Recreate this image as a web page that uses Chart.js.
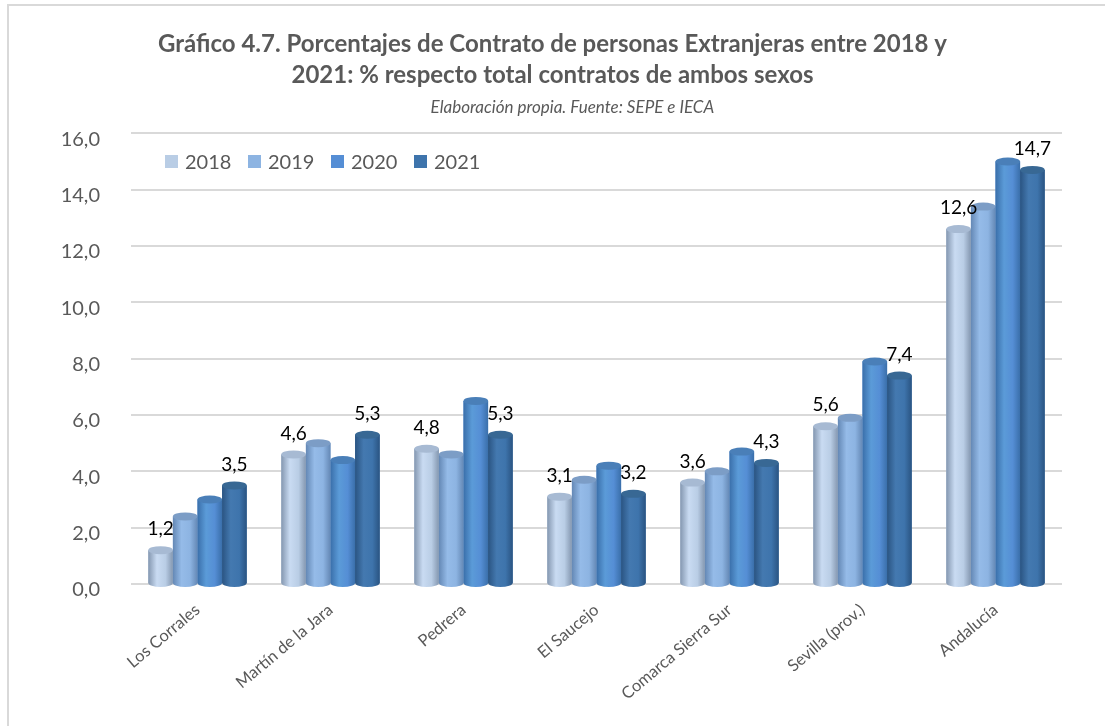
<!DOCTYPE html>
<html>
<head>
<meta charset="utf-8">
<script src="https://cdn.jsdelivr.net/npm/chart.js@4"></script>
<style>
  body { margin: 0; background: #fff; font-family: Lato, "Open Sans", sans-serif; }
  #wrap { position: relative; width: 1105px; height: 726px; overflow: hidden; }
  #frame { position: absolute; left: 7px; top: 4px; width: 1200px; height: 800px;
           border-top: 2px solid #d9d9d9; border-left: 2px solid #d9d9d9; }
  #legend { position: absolute; left: 165px; top: 149px; display: flex; }
  #legend .item { width: 83px; display: flex; align-items: center; font-size: 20px; color: #595959; }
  #legend .box { width: 13px; height: 13px; margin-right: 7px; }
</style>
</head>
<body>
<div id="wrap">
  <div id="frame"></div>
  <canvas id="chart" width="1105" height="726"></canvas>
  <div id="legend"></div>
</div>
<script>
// categories and series
const categories = ['Los Corrales', 'Martín de la Jara', 'Pedrera', 'El Saucejo',
                    'Comarca Sierra Sur', 'Sevilla (prov.)', 'Andalucía'];
const years = ['2018', '2019', '2020', '2021'];
const v2018 = [1.2, 4.6, 4.8, 3.1, 3.6, 5.6, 12.6];
const v2019 = [2.4, 5.0, 4.6, 3.7, 4.0, 5.9, 13.4];
const v2020 = [3.0, 4.4, 6.5, 4.2, 4.7, 7.9, 15.0];
const v2021 = [3.5, 5.3, 5.3, 3.2, 4.3, 7.4, 14.7];
const yTicks = [0, 2, 4, 6, 8, 10, 12, 14, 16];

const series = [v2018, v2019, v2020, v2021];
const labelled = [true, false, false, true];  // only 2018 and 2021 carry labels

// flat colour, edge shade, highlight, cap colour
const colors = [
  { flat: '#B9CDE5', edge: '#8497B0', mid: '#C9DBF2', cap: '#A7BAD3' },
  { flat: '#8DB4E2', edge: '#6488B5', mid: '#95BBE8', cap: '#7C9DC6' },
  { flat: '#558ED5', edge: '#3A6FAA', mid: '#5B9BD8', cap: '#4A7FB8' },
  { flat: '#3E74AC', edge: '#2A5482', mid: '#4479B0', cap: '#386894' }
];

const FONT = 'Lato, "Open Sans", sans-serif';
const fmt = v => v.toFixed(1).replace('.', ',');

// legend in html, placed inside the plot like the original
const legendEl = document.getElementById('legend');
years.forEach((y, i) => {
  const item = document.createElement('div');
  item.className = 'item';
  item.innerHTML = '<span class="box" style="background:' + colors[i].flat + '"></span>' + y;
  legendEl.appendChild(item);
});

// shade each bar like a cylinder, using the bar elements Chart.js laid out
const cylinders = {
  id: 'cylinders',
  afterDatasetsDraw(chart) {
    const c = chart.ctx;
    chart.data.datasets.forEach((ds, di) => {
      const col = colors[di];
      chart.getDatasetMeta(di).data.forEach(el => {
        const w = el.width, l = el.x - w / 2, r = el.x + w / 2;
        const ry = 4;
        const g = c.createLinearGradient(l, 0, r, 0);
        g.addColorStop(0, col.edge);
        g.addColorStop(0.35, col.mid);
        g.addColorStop(0.7, col.flat);
        g.addColorStop(1, col.edge);
        c.save();
        c.fillStyle = g;
        c.beginPath();
        c.moveTo(l, el.y);
        c.lineTo(l, el.base);
        c.ellipse(el.x, el.base, w / 2, ry, 0, Math.PI, 0, true);
        c.lineTo(r, el.y);
        c.closePath();
        c.fill();
        c.fillStyle = col.cap;
        c.beginPath();
        c.ellipse(el.x, el.y, w / 2, ry, 0, 0, Math.PI * 2);
        c.fill();
        c.restore();
      });
    });
    // value labels
    c.save();
    c.font = '19px ' + FONT;
    c.fillStyle = '#000';
    c.textAlign = 'center';
    c.textBaseline = 'middle';
    chart.data.datasets.forEach((ds, di) => {
      if (!labelled[di]) return;
      chart.getDatasetMeta(di).data.forEach((el, i) => {
        c.fillText(fmt(ds.data[i]), el.x, el.y - 21);
      });
    });
    c.restore();
  }
};

new Chart(document.getElementById('chart'), {
  type: 'bar',
  data: {
    labels: categories,
    datasets: series.map((d, i) => ({
      label: years[i],
      data: d,
      backgroundColor: colors[i].flat,
      borderWidth: 0,
      categoryPercentage: 0.74,
      barPercentage: 1.0
    }))
  },
  options: {
    responsive: false,
    animation: false,
    devicePixelRatio: 1,
    layout: { padding: 0 },
    plugins: {
      legend: { display: false },
      tooltip: { enabled: false },
      title: {
        display: true,
        text: ['Gráfico 4.7. Porcentajes de Contrato de personas Extranjeras entre 2018 y',
               '2021: % respecto total contratos de ambos sexos'],
        color: '#595959',
        font: { family: FONT, size: 24, weight: 'bold', lineHeight: 1.29 },
        padding: { top: 29, bottom: 3 }
      },
      subtitle: {
        display: true,
        text: '          Elaboración propia. Fuente: SEPE e IECA',
        color: '#595959',
        font: { family: FONT, size: 17, style: 'italic', lineHeight: 1.2 },
        padding: { top: 3, bottom: 16 }
      }
    },
    scales: {
      y: {
        min: 0,
        max: 16,
        afterBuildTicks: s => { s.ticks = yTicks.map(v => ({ value: v })); },
        afterFit: s => { s.width = 131; },
        ticks: {
          callback: v => fmt(v),
          color: '#595959',
          font: { family: FONT, size: 20 },
          padding: 31,
          labelOffset: 6
        },
        grid: { color: '#d9d9d9', lineWidth: 2, drawTicks: false },
        border: { display: false }
      },
      // empty right-hand axis just to reserve the right margin
      yr: {
        position: 'right',
        afterFit: s => { s.width = 43; },
        ticks: { display: false },
        grid: { display: false },
        border: { display: false }
      },
      x: {
        afterFit: s => { s.height = 142; },
        grid: { display: false },
        border: { display: false },
        ticks: {
          minRotation: 40,
          maxRotation: 40,
          padding: 8,
          color: '#595959',
          font: { family: FONT, size: 16.5 }
        }
      }
    }
  },
  plugins: [cylinders]
});
</script>
</body>
</html>
